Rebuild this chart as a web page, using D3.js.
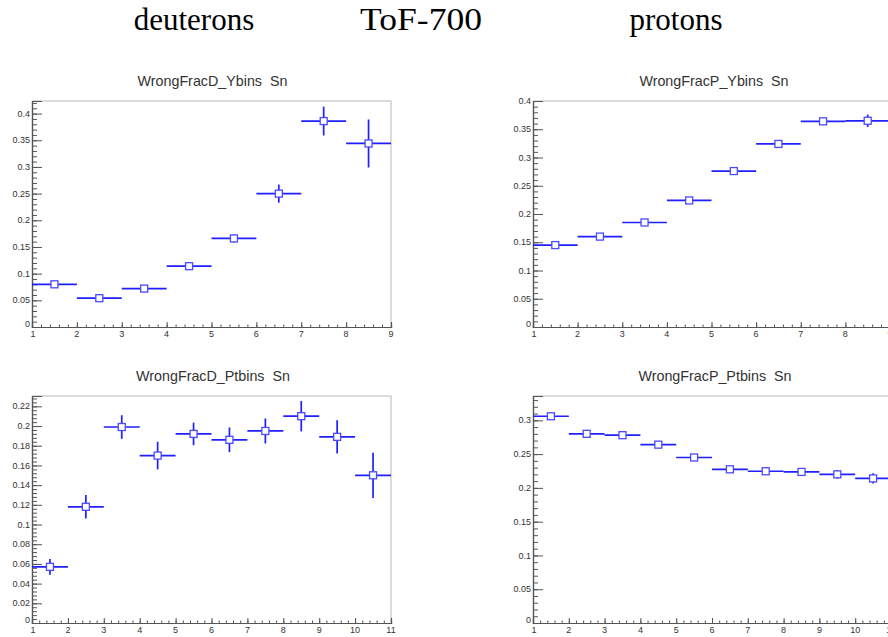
<!DOCTYPE html>
<html lang="en">
<head>
<meta charset="UTF-8">
<title>ToF-700 wrong fractions</title>
<script src="https://cdn.jsdelivr.net/npm/d3@7"></script>
<style>
    body { margin: 0; background: #fff; }
    svg { display: block; }
</style>
</head>
<body>
<script>

    // header labels
    var headers = ["deuterons", "ToF-700", "protons"]

    // histogram titles
    var titles = ["WrongFracD_Ybins  Sn", "WrongFracP_Ybins  Sn",
                  "WrongFracD_Ptbins  Sn", "WrongFracP_Ptbins  Sn"]

    // bin contents and errors (bins are [1,2], [2,3], ...)
    var dYbinsVal = [0.080, 0.054, 0.072, 0.114, 0.166, 0.250, 0.386, 0.344]
    var dYbinsErr = [0.003, 0.003, 0.004, 0.005, 0.008, 0.017, 0.027, 0.045]

    var pYbinsVal = [0.145, 0.160, 0.185, 0.224, 0.276, 0.324, 0.364, 0.365]
    var pYbinsErr = [0.002, 0.002, 0.002, 0.003, 0.003, 0.003, 0.004, 0.011]

    var dPtbinsVal = [0.057, 0.118, 0.199, 0.170, 0.192, 0.186, 0.195, 0.210, 0.189, 0.150]
    var dPtbinsErr = [0.008, 0.012, 0.012, 0.014, 0.0115, 0.0125, 0.0127, 0.0154, 0.017, 0.023]

    var pPtbinsVal = [0.306, 0.280, 0.278, 0.264, 0.245, 0.2275, 0.2246, 0.2236, 0.220, 0.214]
    var pPtbinsErr = [0.002, 0.002, 0.002, 0.002, 0.003, 0.003, 0.003, 0.003, 0.0065, 0.0075]

    // axis ranges and tick steps
    var xMaxes = [9, 9, 11, 11]
    var yMaxes = [0.4236, 0.4, 0.2305, 0.336]
    var yMajor = [0.05, 0.05, 0.02, 0.05]

    var width = 888
    var height = 637
    var lineColor = "#1f1fff"

    var svg = d3.select("body").append("svg")
        .attr("width", width)
        .attr("height", height)
        .attr("viewBox", [0, 0, width, height])

    // top header
    var headerX = [194, 421, 676]
    headers.forEach(function (h, i) {
        var t = svg.append("text")
            .attr("x", headerX[i])
            .attr("y", 30)
            .attr("text-anchor", "middle")
            .attr("font-family", "'Liberation Serif', 'Times New Roman', serif")
            .attr("font-size", "31px")
            .attr("fill", "#000")
            .text(h)
        if (h === "ToF-700") t.attr("textLength", 122).attr("lengthAdjust", "spacingAndGlyphs")
    })

    var frames = [
        {left: 32, right: 391, top: 101, bottom: 327},
        {left: 533, right: 890, top: 101, bottom: 327},
        {left: 32, right: 391, top: 396, bottom: 623},
        {left: 533, right: 891, top: 396, bottom: 623}
    ]
    var titleShift = [1, 2.5, 1.5, 3]

    var series = [
        {val: dYbinsVal, err: dYbinsErr},
        {val: pYbinsVal, err: pYbinsErr},
        {val: dPtbinsVal, err: dPtbinsErr},
        {val: pPtbinsVal, err: pPtbinsErr}
    ]

    function fmt(v) {
        return String(+v.toFixed(4))
    }

    for (var p = 0; p < 4; p++) {
        var f = frames[p]
        var g = svg.append("g")

        var xScale = d3.scaleLinear()
            .domain([1, xMaxes[p]])
            .range([f.left, f.right])
        var yScale = d3.scaleLinear()
            .domain([0, yMaxes[p]])
            .range([f.bottom, f.top])

        // frame: light top/right
        g.append("path")
            .attr("d", "M" + f.left + "," + f.top + "H" + f.right + "V" + f.bottom)
            .attr("fill", "none")
            .attr("stroke", "#cfcfcf")
            .attr("stroke-width", 1.5)

        // title
        g.append("text")
            .attr("x", (f.left + f.right) / 2 + titleShift[p])
            .attr("y", f.top - 15)
            .attr("text-anchor", "middle")
            .attr("xml:space", "preserve")
            .style("white-space", "pre")
            .attr("font-family", "'Liberation Sans', Arial, sans-serif")
            .attr("font-size", "14.3px")
            .attr("fill", "#333")
            .text(titles[p])

        // y axis with ROOT style ticks inside the frame
        var step = yMajor[p]
        var nMinor = Math.floor(yMaxes[p] / (step / 5) + 1e-6)
        var yMinorTicks = d3.range(0, nMinor + 1).map(function (k) { return k * step / 5 })
        var yMajorTicks = d3.range(0, Math.floor(yMaxes[p] / step + 1e-6) + 1).map(function (k) { return k * step })

        var axisCol = "#555"
        var yAx = g.append("g").attr("transform", "translate(" + f.left + ",0)")
        yAx.append("g")
            .call(d3.axisRight(yScale).tickValues(yMinorTicks).tickSize(5).tickFormat(""))
        yAx.append("g")
            .call(d3.axisRight(yScale).tickValues(yMajorTicks).tickSize(10).tickFormat(""))
        yAx.selectAll(".domain").attr("stroke", axisCol).attr("stroke-width", 1.2)
        yAx.selectAll("line").attr("stroke", axisCol)

        g.append("g")
            .selectAll("text")
            .data(yMajorTicks)
            .join("text")
            .attr("x", f.left - 2)
            .attr("y", function (d) { return yScale(d) - (d === 0 ? 3 : 0) })
            .attr("dy", "0.35em")
            .attr("text-anchor", "end")
            .attr("font-family", "'Liberation Sans', Arial, sans-serif")
            .attr("font-size", "9px")
            .attr("fill", "#333")
            .text(fmt)

        // x axis
        var xMinorTicks = d3.range(0, (xMaxes[p] - 1) * 5 + 1).map(function (k) { return 1 + k / 5 })
        var xMajorTicks = d3.range(1, xMaxes[p] + 1)
        var xAx = g.append("g").attr("transform", "translate(0," + f.bottom + ")")
        xAx.append("g")
            .call(d3.axisTop(xScale).tickValues(xMinorTicks).tickSize(2.5).tickFormat(""))
        xAx.append("g")
            .call(d3.axisTop(xScale).tickValues(xMajorTicks).tickSize(5).tickFormat(""))
        xAx.selectAll(".domain").attr("stroke", axisCol).attr("stroke-width", 1.2)
        xAx.selectAll("line").attr("stroke", axisCol)

        g.append("g")
            .selectAll("text")
            .data(xMajorTicks)
            .join("text")
            .attr("x", function (d) { return xScale(d) + (d === 1 ? 1 : 0) })
            .attr("y", f.bottom + 10)
            .attr("text-anchor", "middle")
            .attr("font-family", "'Liberation Sans', Arial, sans-serif")
            .attr("font-size", "9px")
            .attr("fill", "#333")
            .text(function (d) { return d })

        // bins
        var s = series[p]
        var bins = s.val.map(function (v, i) { return {lo: i + 1, hi: i + 2, v: v, e: s.err[i]} })
        var marks = g.append("g")

        marks.selectAll(".hbar")
            .data(bins)
            .join("line")
            .attr("x1", function (d) { return xScale(d.lo) })
            .attr("x2", function (d) { return xScale(d.hi) })
            .attr("y1", function (d) { return yScale(d.v) })
            .attr("y2", function (d) { return yScale(d.v) })
            .attr("stroke", lineColor)
            .attr("stroke-width", 1.7)

        marks.selectAll(".vbar")
            .data(bins)
            .join("line")
            .attr("x1", function (d) { return xScale((d.lo + d.hi) / 2) })
            .attr("x2", function (d) { return xScale((d.lo + d.hi) / 2) })
            .attr("y1", function (d) { return yScale(d.v - d.e) })
            .attr("y2", function (d) { return yScale(d.v + d.e) })
            .attr("stroke", lineColor)
            .attr("stroke-width", 1.7)

        marks.selectAll("rect")
            .data(bins)
            .join("rect")
            .attr("x", function (d) { return xScale((d.lo + d.hi) / 2) - 3.5 })
            .attr("y", function (d) { return yScale(d.v) - 3.5 })
            .attr("width", 7)
            .attr("height", 7)
            .attr("fill", "#fff")
            .attr("stroke", "#4a4aff")
            .attr("stroke-width", 1.3)
    }

</script>
</body>
</html>
